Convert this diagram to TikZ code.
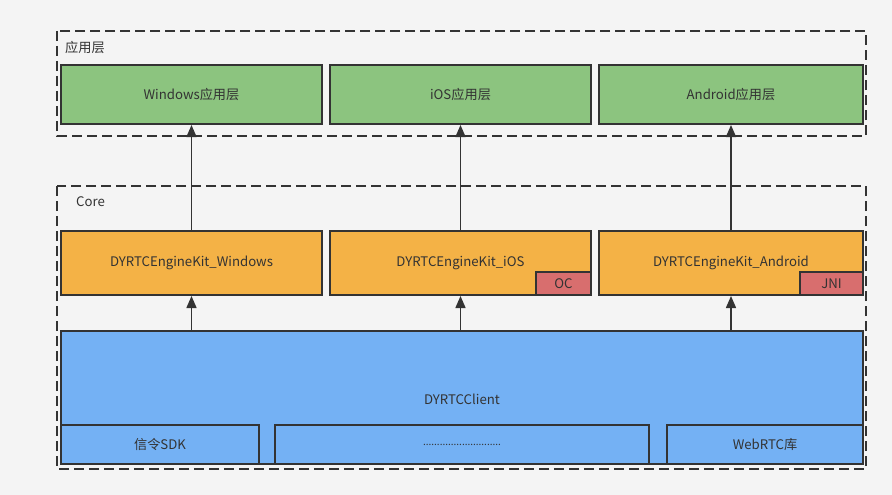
\documentclass[tikz,border=0pt]{standalone}
\usepackage{fontspec}
\setmainfont{Noto Sans CJK SC}
\usetikzlibrary{arrows.meta}
\definecolor{bg}{HTML}{F4F4F4}
\definecolor{ink}{HTML}{333333}
\definecolor{gfill}{HTML}{8CC47F}
\definecolor{ofill}{HTML}{F4B246}
\definecolor{bfill}{HTML}{74B1F4}
\definecolor{rfill}{HTML}{D86E6E}
\tikzset{
  box/.style={draw=ink, line width=2pt, inner sep=0pt, text=ink, font=\fontsize{13.2}{15}\selectfont},
  grp/.style={draw=ink, line width=2pt, dash pattern=on 10pt off 5pt},
  lbl/.style={anchor=west, inner sep=0pt, text=ink, font=\fontsize{13.2}{15}\selectfont},
  arr/.style={draw=ink, line width=1.5pt, -{Triangle[length=12pt,width=10pt]}}
}
\begin{document}
\begin{tikzpicture}[x=1pt,y=-1pt]
\fill[bg] (0,0) rectangle (892,495);
\useasboundingbox (0,0) rectangle (892,495);
% groups
\draw[grp] (57,31) rectangle (866,136);
\draw[grp] (57,186) rectangle (866,469);
\node[lbl] (lapp) at (65,47) {应用层};
\node[lbl] (lcore) at (76,202) {Core};
% app layer
\node[box, fill=gfill, minimum width=261pt, minimum height=59pt] (wg) at (191.5,94.5) {Windows应用层};
\node[box, fill=gfill, minimum width=261pt, minimum height=59pt] (ig) at (460.5,94.5) {iOS应用层};
\node[box, fill=gfill, minimum width=264pt, minimum height=59pt] (ag) at (731,94.5) {Android应用层};
% engine kits
\node[box, fill=ofill, minimum width=261pt, minimum height=64pt] (wo) at (191.5,263) {DYRTCEngineKit\_Windows};
\node[box, fill=ofill, minimum width=261pt, minimum height=64pt] (io) at (460.5,263) {DYRTCEngineKit\_iOS};
\node[box, fill=ofill, minimum width=264pt, minimum height=64pt] (ao) at (731,263) {DYRTCEngineKit\_Android};
\node[box, fill=rfill, minimum width=55pt, minimum height=23pt] (oc) at (563.5,283.5) {OC};
\node[box, fill=rfill, minimum width=63pt, minimum height=23pt] (jni) at (831.5,283.5) {JNI};
% client
\node[box, fill=bfill, minimum width=802pt, minimum height=133pt] (cl) at (462,397.5) {};
\node[text=ink, font=\fontsize{13.2}{15}\selectfont, inner sep=0pt] (clt) at (462,399) {DYRTCClient};
\node[box, fill=bfill, minimum width=198pt, minimum height=39pt] (sdk) at (160,444.5) {信令SDK};
\node[box, fill=bfill, minimum width=374pt, minimum height=39pt, font=\fontsize{10}{12}\selectfont] (dots) at (462,444.5) {............................};
\node[box, fill=bfill, minimum width=196pt, minimum height=39pt] (web) at (765,444.5) {WebRTC库};
% arrows
\draw[arr] (wo.north) -- (wg.south);
\draw[arr] (io.north) -- (ig.south);
\draw[arr] (ao.north) -- (ag.south);
\draw[arr] (wo.south |- cl.north) -- (wo.south);
\draw[arr] (io.south |- cl.north) -- (io.south);
\draw[arr] (ao.south |- cl.north) -- (ao.south);
\end{tikzpicture}
\end{document}
